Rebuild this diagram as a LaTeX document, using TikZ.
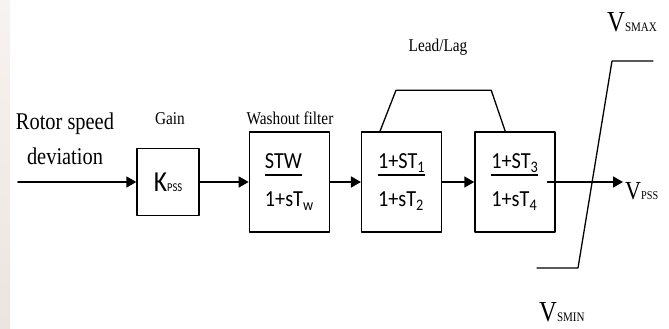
\documentclass[tikz,border=0pt]{standalone}
\usepackage{fontspec}
\setmainfont{Liberation Serif}[FakeStretch=0.85]
\newfontfamily\tffont{Carlito}[FakeStretch=0.88]
\usetikzlibrary{arrows.meta,positioning,calc}
\definecolor{paper}{HTML}{ECE4DE}
\definecolor{paperlight}{HTML}{F7F3F0}
% numerator with a heavy fraction bar under it
\newcommand{\numer}[1]{\setbox0\hbox{#1}\rlap{\rule[-7pt]{\wd0}{1.6pt}}\box0}
% limiter and output signal names
\newcommand{\vsig}[3]{{\fontsize{#1}{#1}\selectfont V}{\fontsize{#2}{#2}\selectfont #3}}
\tikzset{
    every picture/.style={line cap=round,line join=round},
    tfblock/.style={draw=black,line width=1.3pt,minimum width=80pt,
      minimum height=100pt,inner sep=0pt,align=left,
      font=\tffont\fontsize{23}{38}\selectfont},
    sigarrow/.style={-{Triangle[length=10pt,width=11pt]},line width=1.6pt},
    blocklabel/.style={font=\fontsize{18}{18}\selectfont,inner sep=0pt},
    limline/.style={line width=1.3pt}
}
\begin{document}
\begin{tikzpicture}[x=1pt,y=1pt]
  \useasboundingbox (0,0) rectangle (669,329);
  \fill[top color=paperlight,bottom color=paper] (0,0) rectangle (10,329);

  % forward path
  \node[tfblock,minimum width=62pt,minimum height=67pt] (gain) at (168,147)
    {{\fontsize{29}{29}\selectfont K}{\fontsize{12}{12}\selectfont PSS}};
  \node[tfblock,right=49pt of gain] (wash)
    {\numer{STW}\\1+sT\textsubscript{w}};
  \node[tfblock,right=31pt of wash] (ll1)
    {\numer{1+ST\textsubscript{1}}\\1+sT\textsubscript{2}};
  \node[tfblock,right=32pt of ll1] (ll2)
    {\numer{1+ST\textsubscript{3}}\\1+sT\textsubscript{4}};

  \coordinate (in) at (18,147);
  \coordinate (out) at (623,147);
  \draw[sigarrow] (in) -- (gain);
  \draw[sigarrow] (gain) -- (wash);
  \draw[sigarrow] (wash) -- (ll1);
  \draw[sigarrow] (ll1) -- (ll2);
  \draw[sigarrow] ([xshift=-8pt]ll2.east) -- (out);

  % block titles
  \node[align=center,inner sep=0pt,font=\fontsize{24}{35}\selectfont] (rotor)
    at (65,190) {Rotor speed\\deviation};
  \node[blocklabel,anchor=base] (gainlbl) at (170,204) {Gain};
  \node[blocklabel,anchor=base] (washlbl) at (290,204) {Washout filter};
  \node[blocklabel,anchor=base] (leadlbl) at (438,277) {Lead/Lag};

  % lead/lag bracket
  \draw[limline] ($(ll1.north west)+(19,0)$) -- ++(16,41)
    -- ($(ll2.north west)+(17,41)$) -- ($(ll2.north west)+(31,0)$);

  % output limiter
  \draw[limline] (537,61) -- (578,61) -- (612,268) -- (653,268);
  \node[anchor=base west,inner sep=0pt] (vmax) at (607,297) {\vsig{29}{13}{SMAX}};
  \node[anchor=base west,inner sep=0pt] (vmin) at (539,7) {\vsig{29}{13}{SMIN}};
  \node[anchor=base west,inner sep=0pt] (vpss) at (625,129) {\vsig{26}{12}{PSS}};
\end{tikzpicture}
\end{document}
